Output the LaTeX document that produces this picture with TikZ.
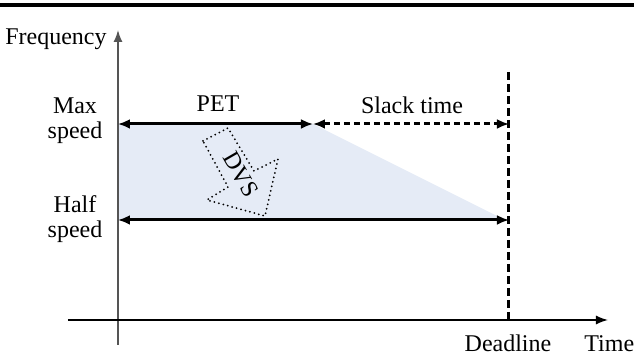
\documentclass[tikz,border=0pt]{standalone}
\usepackage{fontspec}
\setmainfont{Liberation Serif}
\usetikzlibrary{arrows.meta}
\definecolor{areafill}{RGB}{229,235,246}
\definecolor{axisgray}{RGB}{85,85,85}
\tikzset{
  lbl/.style={font=\fontsize{12}{12.5}\selectfont, inner sep=0pt, align=center},
  axisline/.style={line width=0.75pt, -{Latex[length=6pt,width=4.5pt]}},
  span/.style={line width=1.5pt, {Latex[length=6pt,width=5pt]}-{Latex[length=6pt,width=5pt]}},
  slack/.style={span, dash pattern=on 3pt off 2pt},
  deadln/.style={line width=1.5pt, dash pattern=on 4pt off 2pt},
  dotline/.style={line width=1pt, line cap=round, dash pattern=on 0pt off 2.3pt}
}
\begin{document}
\begin{tikzpicture}[x=0.5pt, y=-0.5pt]
\useasboundingbox (0,0) rectangle (634,356);

% heavy rule along the top
\draw[line width=2pt] (0,5.3) -- (634,5.3);

% anchor points
\coordinate (o)     at (118,320);
\coordinate (ybot)  at (118,345);
\coordinate (ytop)  at (118,30);
\coordinate (xl)    at (68,320);
\coordinate (xr)    at (608,320);
\coordinate (maxL)  at (118,124);
\coordinate (petR)  at (313,124);
\coordinate (dlMax) at (509,124);
\coordinate (halfL) at (118,220);
\coordinate (dlHalf) at (509,220);
\coordinate (dlTop) at (509,72);
\coordinate (dlBot) at (509,320);

% shaded work area
\fill[areafill] (maxL) -- (petR) -- (501,218) -- (halfL) -- cycle;

% axes
\draw[axisline, draw=axisgray, fill=axisgray] (ybot) -- (ytop);
\draw[axisline] (xl) -- (xr);

% deadline
\draw[deadln] (dlTop) -- (dlBot);

% execution spans
\draw[span] (maxL) -- (petR);
\draw[slack] (petR) -- (dlMax);
\draw[span] (halfL) -- (dlHalf);

% labels
\node[lbl, anchor=base east] (freq) at (107,45) {Frequency};
\node[lbl] (maxs) at (75,121) {Max\\speed};
\node[lbl] (halfs) at (75,219) {Half\\speed};
\node[lbl, anchor=base] (pet) at (218,112) {PET};
\node[lbl, anchor=base] (slk) at (412,114) {Slack time};
\node[lbl, anchor=base] (dl) at (508,352) {Deadline};
\node[lbl, anchor=base west] (tm) at (584,352) {Time};

% dotted block arrow for voltage scaling
\draw[dotline] (203,141) -- (228,128) -- (254,171) -- (278,159)
  -- (265,216) -- (207,200) -- (228,187) -- cycle;
\node[lbl, rotate=-60] (dvs) at (241,174) {DVS};
\end{tikzpicture}
\end{document}
